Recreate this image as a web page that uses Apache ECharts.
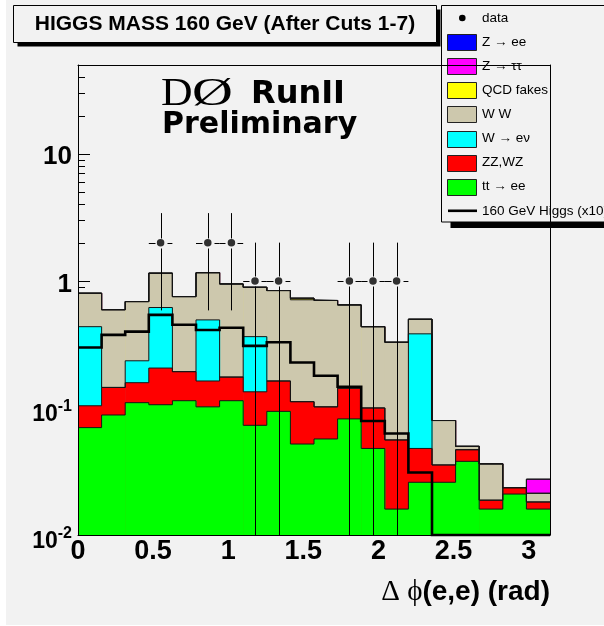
<!DOCTYPE html>
<html>
<head>
<meta charset="utf-8">
<script src="https://cdn.jsdelivr.net/npm/echarts@6/dist/echarts.min.js"></script>
<style>
  html, body { margin: 0; padding: 0; background: #ffffff; }
  #chart { width: 604px; height: 626px; }
</style>
</head>
<body>
<div id="chart"></div>
<script>
// Delta-phi(e,e) distribution, 20 bins over [0, pi], log scale
const nBins = 20;
const xMax = Math.PI;
const binWidth = xMax / nBins;
const yMin = 0.01;
const yMax = 50;

// Expected events per bin for each background (stacked bottom to top)
const ttee    = [0.070, 0.088, 0.110, 0.106, 0.114, 0.102, 0.114, 0.073, 0.094, 0.052,
                 0.057, 0.082, 0.048, 0.016, 0.026, 0.026, 0.038, 0.016, 0.021, 0.016];
const zzwz    = [0.034, 0.057, 0.048, 0.100, 0.079, 0.061, 0.061, 0.061, 0.069, 0.060,
                 0.045, 0.061, 0.052, 0.040, 0.022, 0.0096, 0.0089, 0.0028, 0.0026, 0.0022];
const wenu    = [0.332, 0, 0.077, 0.411, 0, 0.330, 0, 0.230, 0, 0,
                 0, 0, 0, 0, 0.335, 0, 0, 0, 0, 0];
const ww      = [0.364, 0.448, 0.452, 0.533, 0.559, 0.667, 0.771, 0.527, 0.676, 0.598,
                 0.599, 0.504, 0.336, 0.273, 0.116, 0.044, 0.003, 0.0175, 0, 0.0031];
const qcd     = [0, 0, 0, 0, 0, 0, 0, 0, 0, 0.021,
                 0, 0, 0, 0, 0, 0, 0, 0, 0, 0];
const ztautau = [0, 0, 0, 0, 0, 0, 0, 0, 0, 0,
                 0, 0, 0, 0, 0, 0, 0, 0, 0, 0.0062];
const zee     = [0, 0, 0, 0, 0, 0, 0, 0, 0, 0,
                 0, 0, 0, 0, 0, 0, 0, 0, 0, 0];

// Signal expectation (scaled x10)
const higgsX10 = [0.299, 0.376, 0.399, 0.540, 0.451, 0.411, 0.428, 0.308, 0.329, 0.228,
                  0.179, 0.147, 0.079, 0.063, 0.031, 0, 0, 0, 0, 0];

// Observed events per bin
const dataCounts = [0, 0, 0, 2, 0, 2, 2, 1, 1, 0,
                    0, 1, 1, 1, 0, 0, 0, 0, 0, 0];

// Axis tick labels
const xTickValues = [0, 0.5, 1, 1.5, 2, 2.5, 3];
const xTickLabels = ['0', '0.5', '1', '1.5', '2', '2.5', '3'];
const yTickValues = [0.01, 0.1, 1, 10];
const yTickLabels = ['{b|10}{e|-2}', '{b|10}{e|-1}', '{a|1}', '{a|10}'];
const yMinorTicks = [0.02, 0.03, 0.04, 0.05, 0.06, 0.07, 0.08, 0.09,
                     0.2, 0.3, 0.4, 0.5, 0.6, 0.7, 0.8, 0.9,
                     2, 3, 4, 5, 6, 7, 8, 9, 20, 30, 40];

// Stack layers, bottom to top
const layerNames  = ['tt \u2192 ee', 'ZZ,WZ', 'W \u2192 e\u03bd', 'W W', 'QCD fakes', 'Z \u2192 \u03c4\u03c4', 'Z \u2192 ee'];
const layerColors = ['#00ff00', '#ff0000', '#00ffff', '#cdc8ad', '#ffff00', '#ff00ff', '#0000ff'];
const layerValues = [ttee, zzwz, wenu, ww, qcd, ztautau, zee];

const cumulative = [];
layerValues.forEach((vals, L) => {
  cumulative.push(vals.map((v, i) => v + (L ? cumulative[L - 1][i] : 0)));
});

function stepPoints(vals) {
  const pts = vals.map((v, i) => [i * binWidth, Math.max(v, yMin)]);
  pts.push([xMax, Math.max(vals[vals.length - 1], yMin)]);
  return pts;
}

const series = [];

// minor ticks on the left axis, beneath the histograms
series.push({
  type: 'custom', name: 'minorTicks', silent: true, animation: false, z: 1,
  data: yMinorTicks.map(v => [0, v]),
  encode: { x: 0, y: 1 },
  renderItem: (params, api) => {
    const p = api.coord([api.value(0), api.value(1)]);
    const y = Math.round(p[1]) + 0.5;
    return { type: 'line', shape: { x1: p[0], y1: y, x2: p[0] + 7, y2: y },
             style: { stroke: '#000', lineWidth: 1 } };
  }
});

// stacked histograms: top-most sum first, each with its own outline
for (let L = layerValues.length - 1; L >= 0; L--) {
  const color = layerColors[L];
  series.push({
    type: 'custom', name: layerNames[L], silent: true, animation: false,
    data: cumulative[L].map((c, i) => [i * binWidth, (i + 1) * binWidth, c]),
    encode: { x: [0, 1], y: 2 },
    renderItem: (params, api) => {
      const top = api.value(2);
      if (!(top > yMin)) return null;
      const a = api.coord([api.value(0), top]);
      const b = api.coord([api.value(1), yMin]);
      return { type: 'rect',
               shape: { x: a[0], y: a[1], width: b[0] - a[0] + 0.6, height: b[1] - a[1] },
               style: { fill: color } };
    }
  });
  series.push({
    type: 'line', name: layerNames[L] + ' outline', step: 'end', silent: true, animation: false,
    symbol: 'none', clip: false,
    data: stepPoints(cumulative[L]),
    lineStyle: { color: '#151515', width: 1 }
  });
}

// signal line
series.push({
  type: 'line', name: '160 GeV Higgs (x10)', step: 'end', silent: true, animation: false,
  symbol: 'none', clip: false,
  data: stepPoints(higgsX10),
  lineStyle: { color: '#000', width: 2.6, join: 'miter' }
});

// observed data: error bars with a gap around the marker
const dataPoints = [];
dataCounts.forEach((n, i) => { if (n > 0) dataPoints.push([(i + 0.5) * binWidth, n]); });

series.push({
  type: 'custom', name: 'data errors', silent: true, animation: false, z: 4,
  data: dataPoints,
  encode: { x: 0, y: 1 },
  renderItem: (params, api) => {
    const x = api.value(0), n = api.value(1);
    const err = Math.sqrt(n);
    const c = api.coord([x, n]);
    const up = api.coord([x, n + err]);
    const lo = api.coord([x, Math.max(n - err, yMin)]);
    const l = api.coord([x - binWidth / 2, n]);
    const r = api.coord([x + binWidth / 2, n]);
    const cx = Math.round(c[0]) + 0.5, cy = Math.round(c[1]) + 0.5;
    const st = { stroke: '#000', lineWidth: 1 };
    return { type: 'group', children: [
      { type: 'line', shape: { x1: cx, y1: up[1], x2: cx, y2: cy - 5 }, style: st },
      { type: 'line', shape: { x1: cx, y1: cy + 5, x2: cx, y2: lo[1] }, style: st },
      { type: 'line', shape: { x1: l[0], y1: cy, x2: cx - 6, y2: cy }, style: st },
      { type: 'line', shape: { x1: cx + 6, y1: cy, x2: r[0], y2: cy }, style: st }
    ] };
  }
});

series.push({
  type: 'scatter', name: 'data', silent: true, animation: false, z: 5,
  data: dataPoints, symbol: 'circle', symbolSize: 7.5,
  itemStyle: { color: '#000' }
});

function xLabel(v) {
  for (let i = 0; i < xTickValues.length; i++) {
    if (Math.abs(v - xTickValues[i]) < 1e-6) return xTickLabels[i];
  }
  return '';
}
function yLabel(v) {
  for (let i = 0; i < yTickValues.length; i++) {
    if (Math.abs(Math.log10(v) - Math.log10(yTickValues[i])) < 1e-6) return yTickLabels[i];
  }
  return '';
}

const frameLine = { show: true, onZero: false, lineStyle: { color: '#000', width: 1 } };
const labelFont = 'Liberation Sans';
const legendFont = '13.5px "Liberation Sans"';

// legend rows
const legendX = 441.5, legendY = 5.5, legendW = 200, legendH = 216.5;
const rowY = k => 18 + 24.1 * k;
const legendChildren = [
  { type: 'rect', shape: { x: legendX + 9, y: legendY + 6, width: legendW, height: legendH }, style: { fill: '#000' } },
  { type: 'rect', shape: { x: legendX, y: legendY, width: legendW, height: legendH }, style: { fill: '#f2f2f2', stroke: '#000', lineWidth: 1 } },
  { type: 'circle', shape: { cx: 462.3, cy: rowY(0), r: 3.3 }, style: { fill: '#000' } },
  { type: 'text', style: { x: 482, y: rowY(0), text: 'data', font: legendFont, fill: '#000',
      verticalAlign: 'middle', textVerticalAlign: 'middle' } }
];
for (let k = 0; k < layerNames.length; k++) {
  const L = layerNames.length - 1 - k;
  const y = rowY(k + 1);
  legendChildren.push({ type: 'rect', shape: { x: 447.5, y: Math.round(y - 8) + 0.5, width: 29, height: 16 },
                        style: { fill: layerColors[L], stroke: '#222', lineWidth: 1 } });
  legendChildren.push({ type: 'text', style: { x: 482, y: y, text: layerNames[L], font: legendFont, fill: '#000',
                        verticalAlign: 'middle', textVerticalAlign: 'middle' } });
}
const yH = rowY(8);
legendChildren.push({ type: 'line', shape: { x1: 448, y1: yH, x2: 477, y2: yH }, style: { stroke: '#000', lineWidth: 2.6 } });
legendChildren.push({ type: 'text', style: { x: 482, y: yH, text: '160 GeV Higgs (x10)', font: legendFont, fill: '#000',
                      verticalAlign: 'middle', textVerticalAlign: 'middle' } });

const mid = { verticalAlign: 'middle', textVerticalAlign: 'middle' };

const option = {
  backgroundColor: '#ffffff',
  animation: false,
  grid: { left: 78, top: 65, width: 472, height: 470, containLabel: false, outerBoundsMode: 'none' },
  xAxis: [
    { type: 'value', min: 0, max: xMax, interval: 0.5, position: 'bottom', z: 10,
      axisLine: frameLine, axisTick: { show: false }, splitLine: { show: false },
      axisLabel: { formatter: xLabel, color: '#000', fontSize: 27, fontWeight: 'bold', fontFamily: labelFont,
                   margin: 3, showMinLabel: true, showMaxLabel: true, hideOverlap: false } },
    { type: 'value', min: 0, max: xMax, position: 'top', z: 10,
      axisLine: frameLine, axisTick: { show: false }, axisLabel: { show: false }, splitLine: { show: false } }
  ],
  yAxis: [
    { type: 'log', logBase: 10, min: yMin, max: yMax, position: 'left',
      axisLine: { show: false }, splitLine: { show: false },
      axisTick: { show: true, inside: true, length: 12, lineStyle: { color: '#000', width: 1 } },
      axisLabel: { formatter: yLabel, color: '#000', margin: 6, showMinLabel: true, showMaxLabel: true, hideOverlap: false,
        rich: {
          a: { fontSize: 26, fontWeight: 'bold', fontFamily: labelFont, color: '#000', padding: [7, 0, 0, 0] },
          b: { fontSize: 23, fontWeight: 'bold', fontFamily: labelFont, color: '#000', padding: [14, 0, 0, 0] },
          e: { fontSize: 16, fontWeight: 'bold', fontFamily: labelFont, color: '#000', verticalAlign: 'top', padding: [9, 0, 0, 0] }
        } } },
    { type: 'log', logBase: 10, min: yMin, max: yMax, position: 'right', z: 10,
      axisLine: frameLine, axisTick: { show: false }, axisLabel: { show: false }, splitLine: { show: false } },
    { type: 'log', logBase: 10, min: yMin, max: yMax, position: 'left', z: 10,
      axisLine: frameLine, axisTick: { show: false }, axisLabel: { show: false }, splitLine: { show: false } }
  ],
  graphic: [
    { type: 'rect', z: -10, silent: true, shape: { x: 6, y: 0, width: 598, height: 625 }, style: { fill: '#f2f2f2' } },
    // title box
    { type: 'group', z: 20, silent: true, children: [
      { type: 'rect', shape: { x: 17.5, y: 9.5, width: 423, height: 37 }, style: { fill: '#000' } },
      { type: 'rect', shape: { x: 13.5, y: 5.5, width: 423, height: 37 }, style: { fill: '#f2f2f2', stroke: '#000', lineWidth: 1 } },
      { type: 'text', style: Object.assign({ x: 225, y: 24.5, text: 'HIGGS MASS 160 GeV (After Cuts 1-7)',
          font: 'bold 21px "Liberation Sans"', fill: '#000', align: 'center', textAlign: 'center' }, mid) }
    ] },
    // legend
    { type: 'group', z: 20, silent: true, children: legendChildren },
    // experiment label
    { type: 'text', z: 20, silent: true, x: 161, y: 95, scaleX: 1.12,
      style: Object.assign({ x: 0, y: 0, text: 'D', font: '39px "Liberation Serif"', fill: '#000' }, mid) },
    { type: 'text', z: 20, silent: true, x: 192, y: 95, scaleX: 1.45,
      style: Object.assign({ x: 0, y: 0, text: '\u00d8', font: '39px "Liberation Serif"', fill: '#000' }, mid) },
    { type: 'text', z: 20, silent: true, style: Object.assign({ x: 251, y: 95, text: 'RunII',
        font: 'bold 32px "DejaVu Sans"', fill: '#000' }, mid) },
    { type: 'text', z: 20, silent: true, style: Object.assign({ x: 162, y: 125, text: 'Preliminary',
        font: 'bold 30px "DejaVu Sans"', fill: '#000' }, mid) },
    // x axis title
    { type: 'text', z: 20, silent: true, style: Object.assign({ x: 550, y: 592,
        text: '{g|\u0394 \u03d5}{b|(e,e) (rad)}', align: 'right', textAlign: 'right',
        rich: {
          g: { fontSize: 29, fontFamily: '"Liberation Serif", "DejaVu Serif", serif', fill: '#000', color: '#000' },
          b: { fontSize: 28, fontWeight: 'bold', fontFamily: 'Liberation Sans', fill: '#000', color: '#000' }
        } }, mid) }
  ],
  series: series
};

const chart = echarts.init(document.getElementById('chart'), null, { renderer: 'canvas' });
chart.setOption(option);
</script>
</body>
</html>
